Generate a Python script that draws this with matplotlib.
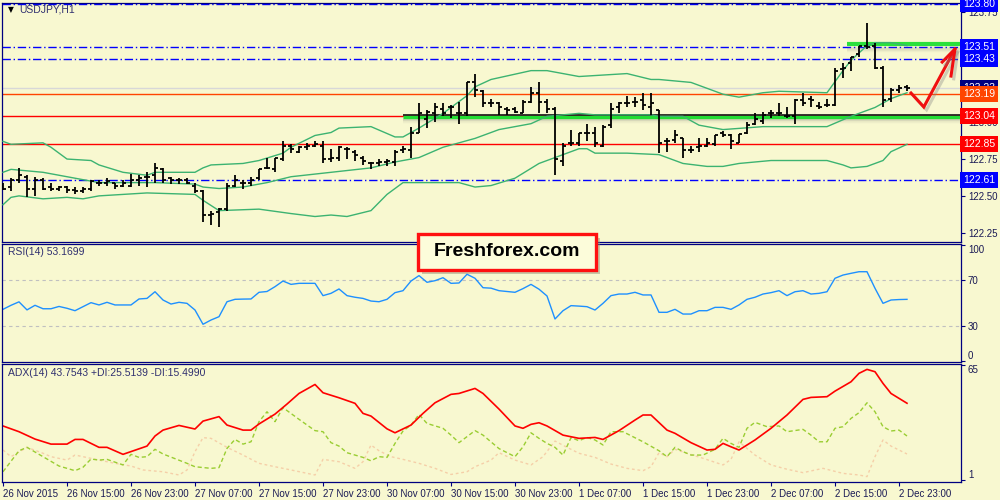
import matplotlib
matplotlib.use('Agg')
import matplotlib.pyplot as plt
import matplotlib.patheffects as pe
from matplotlib.patches import Rectangle
import numpy as np

# Barres OHLC USDJPY H1 (26 Nov 07:00 -> 3 Dec 00:00)
bar_open = [122.57, 122.56, 122.61, 122.63, 122.55, 122.61, 122.56, 122.55, 122.56, 122.54,
            122.53, 122.55, 122.59, 122.59, 122.59, 122.57, 122.57, 122.61, 122.63, 122.64,
            122.68, 122.62, 122.61, 122.61, 122.57, 122.53, 122.37, 122.39, 122.41, 122.57,
            122.59, 122.59, 122.62, 122.69, 122.68, 122.75, 122.84, 122.80, 122.83, 122.84,
            122.84, 122.75, 122.76, 122.82, 122.80, 122.76, 122.72, 122.72, 122.73, 122.73,
            122.81, 122.81, 122.93, 123.02, 123.06, 123.09, 123.10, 123.06, 123.06, 123.27,
            123.21, 123.13, 123.13, 123.09, 123.09, 123.06, 123.14, 123.20, 123.14, 123.09,
            122.74, 122.86, 122.86, 122.93, 122.93, 122.84, 122.98, 123.10, 123.13, 123.14,
            123.15, 123.10, 123.08, 122.87, 122.88, 122.89, 122.81, 122.83, 122.84, 122.85,
            122.93, 122.91, 122.86, 122.93, 122.99, 123.01, 123.06, 123.06, 123.04, 123.04,
            123.15, 123.16, 123.11, 123.12, 123.12, 123.36, 123.40, 123.46, 123.52, 123.52,
            123.37, 123.16, 123.22, 123.24]
bar_high = [122.59, 122.62, 122.69, 122.64, 122.63, 122.62, 122.59, 122.57, 122.57, 122.56,
            122.56, 122.61, 122.61, 122.62, 122.59, 122.61, 122.65, 122.64, 122.66, 122.72,
            122.69, 122.63, 122.62, 122.62, 122.59, 122.54, 122.40, 122.42, 122.59, 122.64,
            122.61, 122.63, 122.68, 122.76, 122.76, 122.87, 122.85, 122.84, 122.86, 122.87,
            122.87, 122.82, 122.84, 122.83, 122.81, 122.77, 122.73, 122.75, 122.75, 122.81,
            122.84, 122.97, 123.13, 123.08, 123.13, 123.13, 123.12, 123.14, 123.27, 123.33,
            123.22, 123.16, 123.14, 123.10, 123.10, 123.15, 123.24, 123.27, 123.16, 123.10,
            122.86, 122.95, 122.93, 122.99, 122.97, 122.98, 123.13, 123.14, 123.18, 123.17,
            123.20, 123.20, 123.08, 122.89, 122.95, 122.89, 122.84, 122.89, 122.89, 122.91,
            122.94, 122.92, 122.92, 123.00, 123.06, 123.07, 123.08, 123.13, 123.10, 123.16,
            123.20, 123.18, 123.14, 123.16, 123.37, 123.40, 123.44, 123.52, 123.67, 123.54,
            123.38, 123.23, 123.25, 123.25]
bar_low = [122.54, 122.53, 122.59, 122.49, 122.50, 122.54, 122.53, 122.53, 122.52, 122.51,
           122.52, 122.53, 122.57, 122.57, 122.55, 122.56, 122.56, 122.57, 122.56, 122.59,
           122.59, 122.58, 122.58, 122.58, 122.52, 122.32, 122.30, 122.29, 122.40, 122.56,
           122.55, 122.57, 122.61, 122.68, 122.66, 122.74, 122.79, 122.79, 122.81, 122.83,
           122.72, 122.73, 122.74, 122.75, 122.74, 122.71, 122.68, 122.70, 122.70, 122.70,
           122.79, 122.76, 122.93, 122.96, 123.00, 123.04, 123.03, 122.99, 123.04, 123.17,
           123.10, 123.10, 123.05, 123.05, 123.06, 123.06, 123.13, 123.06, 123.06, 122.64,
           122.70, 122.84, 122.84, 122.87, 122.83, 122.83, 122.96, 123.06, 123.10, 123.10,
           123.08, 123.05, 122.79, 122.80, 122.86, 122.76, 122.79, 122.80, 122.83, 122.84,
           122.90, 122.82, 122.86, 122.92, 122.98, 122.99, 123.03, 123.04, 123.03, 122.99,
           123.11, 123.10, 123.09, 123.10, 123.11, 123.30, 123.35, 123.44, 123.50, 123.36,
           123.10, 123.14, 123.20, 123.21]
bar_close = [122.55, 122.61, 122.64, 122.55, 122.61, 122.55, 122.55, 122.56, 122.54, 122.53,
             122.55, 122.60, 122.59, 122.60, 122.57, 122.59, 122.61, 122.62, 122.63, 122.69,
             122.61, 122.61, 122.61, 122.59, 122.53, 122.37, 122.38, 122.41, 122.57, 122.61,
             122.59, 122.61, 122.68, 122.69, 122.76, 122.84, 122.82, 122.83, 122.84, 122.85,
             122.75, 122.76, 122.83, 122.82, 122.78, 122.74, 122.72, 122.73, 122.74, 122.80,
             122.82, 122.93, 123.06, 123.07, 123.10, 123.06, 123.10, 123.06, 123.27, 123.22,
             123.13, 123.13, 123.10, 123.08, 123.07, 123.14, 123.20, 123.14, 123.09, 122.75,
             122.84, 122.86, 122.93, 122.93, 122.86, 122.97, 123.09, 123.13, 123.13, 123.14,
             123.12, 123.13, 122.86, 122.87, 122.91, 122.81, 122.81, 122.84, 122.86, 122.91,
             122.91, 122.87, 122.92, 122.98, 123.02, 123.05, 123.06, 123.06, 123.04, 123.15,
             123.13, 123.15, 123.10, 123.12, 123.35, 123.37, 123.44, 123.52, 123.51, 123.37,
             123.15, 123.22, 123.23, 123.23]

# Bandes de Bollinger
bb_up_idx = [0, 1, 5, 6, 8, 11, 12, 15, 18, 19, 24, 25, 26, 30, 32, 35, 36, 39, 41, 42,
             46, 49, 50, 52, 55, 58, 59, 61, 66, 68, 72, 78, 81, 82, 86, 88, 90, 92, 95, 97,
             103, 105, 106, 108, 109, 111, 113]
bb_up = [122.87, 122.85, 122.86, 122.83, 122.75, 122.74, 122.71, 122.66, 122.64, 122.66,
         122.66, 122.69, 122.71, 122.72, 122.74, 122.79, 122.83, 122.91, 122.93, 122.96,
         122.97, 122.90, 122.90, 122.96, 123.06, 123.18, 123.24, 123.29, 123.35, 123.35,
         123.31, 123.33, 123.29, 123.29, 123.27, 123.23, 123.19, 123.17, 123.20, 123.21,
         123.20, 123.35, 123.42, 123.52, 123.54, 123.54, 123.52]
bb_mid_idx = [0, 1, 5, 8, 12, 15, 19, 24, 25, 27, 30, 33, 36, 41, 46, 49, 52, 55, 59, 62,
              66, 68, 72, 74, 81, 82, 85, 87, 90, 95, 99, 103, 106, 109, 111, 113]
bb_mid = [122.66, 122.68, 122.66, 122.63, 122.59, 122.59, 122.59, 122.58, 122.56, 122.55,
          122.56, 122.59, 122.63, 122.66, 122.69, 122.73, 122.76, 122.83, 122.89, 122.95,
          122.99, 123.04, 123.06, 123.05, 123.05, 123.04, 123.04, 122.98, 122.95, 122.97,
          122.97, 122.97, 123.04, 123.10, 123.16, 123.20]
bb_low_idx = [0, 1, 2, 5, 8, 10, 12, 18, 24, 25, 27, 32, 36, 39, 41, 43, 46, 48, 50, 57,
              59, 61, 64, 67, 69, 72, 73, 74, 78, 82, 85, 88, 90, 92, 96, 103, 105, 106, 108, 110,
              111, 113]
bb_low = [122.44, 122.49, 122.50, 122.48, 122.49, 122.48, 122.50, 122.52, 122.51, 122.47,
          122.40, 122.41, 122.38, 122.36, 122.37, 122.36, 122.40, 122.51, 122.59, 122.59,
          122.56, 122.57, 122.62, 122.72, 122.76, 122.82, 122.82, 122.79, 122.79, 122.78,
          122.72, 122.70, 122.70, 122.72, 122.74, 122.74, 122.71, 122.69, 122.70, 122.74,
          122.80, 122.85]

# RSI(14), une valeur par barre
rsi = [44.5, 48, 51, 44, 48, 45, 45, 47, 45.4, 43.3,
       46.8, 50.3, 48.3, 50.6, 48.3, 48.3, 48.3, 53.5, 54, 59.8,
       52.6, 49.1, 50.6, 49.7, 43.9, 31.5, 35.2, 38.1, 51.1, 53.2,
       53.4, 53.5, 59.3, 60, 64.2, 69.1, 66.2, 67.1, 67.1, 67.1,
       56.4, 58.4, 62.2, 56.4, 55, 54, 51.7, 51.1, 53.2, 59,
       60.7, 69.1, 73.8, 68, 69.4, 72, 67.1, 67.4, 75, 71.5,
       63.3, 62.9, 60.7, 60, 59.3, 62.5, 66.2, 62, 56.1, 36.1,
       43.3, 47.7, 47.3, 46.8, 43.9, 49.7, 56.4, 57.8, 57.8, 59.3,
       57, 57, 41.9, 41.9, 44.5, 40.4, 40.4, 43.3, 43.3, 46.2,
       46.2, 44.5, 48.3, 53.2, 55, 57.8, 59, 60.7, 56.4, 59.8,
       60.7, 57.8, 58.4, 59.8, 71.5, 74.3, 75.8, 77.2, 77.2, 62.8,
       49.7, 52.6, 53, 53.17]

# ADX(14), +DI, -DI
adx_idx = [0, 2, 4, 6, 8, 9, 10, 12, 13, 15, 18, 19, 20, 22, 24, 25, 27, 28, 30, 31,
           32, 34, 35.5, 37, 39, 40, 42, 44, 45, 46, 48, 49, 51, 52.5, 54, 56, 57, 59, 60, 62,
           64, 65, 66, 67, 68, 70, 72, 74, 75, 77, 79, 80, 81, 83, 84, 86, 88, 89, 90, 91,
           92, 94, 96, 98, 100, 101, 103, 104, 106, 107, 108, 109, 110, 111, 113]
adx = [31.1, 27.9, 23.8, 21.0, 21.0, 23.6, 23.6, 19.2, 19.2, 15.3, 19.9, 25.5, 28.8, 31.4, 29.4,
       33.8, 36.3, 31.6, 28.8, 28.8, 32.2, 37.7, 43.3, 49.2, 54.2, 49.6, 46.8, 43.7, 38.1, 36.6,
       29.5, 27.3, 31.6, 38.1, 44.0, 48.7, 49.2, 52.0, 49.2, 40.5, 31.1, 29.8, 32.0, 32.9, 31.1,
       26.0, 24.2, 24.7, 23.6, 28.5, 34.4, 37.2, 37.2, 28.8, 27.0, 21.8, 17.7, 18.1, 21.4, 19.5,
       17.7, 23.3, 29.8, 37.2, 45.9, 47.0, 47.4, 50.5, 55.7, 60.4, 62.6, 61.3, 54.8, 49.2, 43.75]
pdi_idx = [0, 2, 3, 5, 7, 9, 10, 11, 12, 13, 15, 16, 17, 18, 19, 20, 23, 24, 26, 27,
           28, 29, 30, 31, 32, 33, 34, 35, 37, 39, 40, 41, 42, 43, 45, 46, 47, 48, 49, 50,
           51, 52, 53, 55, 56, 57, 59, 60, 62, 64, 65, 66, 67, 68, 69, 70, 71, 72, 73, 74,
           75, 76, 77.5, 80, 82, 83, 84, 85, 86, 87.5, 89, 90, 91, 92, 93, 94, 95.5, 97, 98, 100,
           101, 102, 103, 104, 105, 106, 107, 108, 109, 110, 111, 112, 113]
pdi = [5.6, 17.3, 19.2, 14.0, 8.8, 6.2, 8.1, 12.7, 12.1, 12.5, 9.4, 15.3, 13.6, 14.0, 18.1,
       15.5, 10.3, 8.4, 7.5, 7.9, 18.6, 23.6, 21.0, 22.3, 33.5, 39.0, 33.5, 41.3, 34.8, 28.5,
       27.9, 21.8, 19.9, 16.2, 13.6, 11.7, 14.0, 13.6, 21.4, 28.3, 31.6, 37.5, 32.5, 29.8, 26.0,
       21.8, 28.5, 26.0, 18.5, 14.0, 19.5, 27.3, 24.2, 21.4, 19.2, 14.9, 24.6, 22.9, 24.7, 23.3,
       20.5, 27.9, 27.9, 22.3, 17.3, 14.0, 19.2, 16.8, 14.9, 14.9, 18.1, 24.2, 21.4, 19.2, 29.8,
       33.1, 30.7, 31.1, 27.9, 29.2, 26.0, 22.3, 22.3, 29.8, 30.7, 35.3, 38.5, 44.0, 39.0, 30.7,
       28.3, 28.8, 25.51]
mdi_idx = [0, 1, 3, 5, 6, 8, 9, 10, 12, 14, 16, 17.5, 20, 22, 23, 24, 25, 26, 28, 30,
           32, 34, 36, 39, 40, 42, 44, 45, 46, 47, 48.5, 50, 52, 54, 56, 58, 59, 61, 62, 64,
           66, 67.5, 69, 70.5, 72, 74, 76, 78, 80, 81, 82, 83, 84, 85.5, 87.5, 90, 91, 92, 94, 96,
           98, 100, 102.5, 105, 107, 108, 109, 110, 111, 113]
mdi = [17.7, 14.0, 19.2, 15.9, 14.0, 12.1, 14.9, 14.0, 12.1, 10.3, 8.8, 6.6, 5.6, 3.8, 6.6,
       16.8, 24.6, 24.2, 19.2, 14.9, 10.3, 8.4, 6.6, 3.8, 12.5, 11.2, 7.5, 11.2, 20.5, 17.3,
       14.0, 12.5, 10.3, 7.5, 4.1, 5.6, 8.4, 12.1, 16.2, 12.1, 9.4, 14.0, 22.7, 19.2, 15.9,
       13.6, 9.9, 7.5, 6.2, 8.4, 16.2, 14.0, 18.1, 15.9, 13.1, 9.4, 12.5, 22.3, 14.9, 9.4,
       7.0, 5.1, 7.5, 4.7, 3.8, 2.9, 14.0, 23.3, 19.9, 15.5]

# Niveaux horizontaux
levels_blue = [123.80, 123.51, 123.43, 122.61]
levels_red = [123.04, 122.85]
level_orange = 123.19
bid_price = 123.23

price_ticks = [122.25, 122.50, 122.75, 123.00, 123.25, 123.50, 123.75]
price_tick_labels = ['122.25', '122.50', '122.75', '123.00', '', '', '123.75']

time_ticks = [0, 8, 16, 24, 32, 40, 48, 56, 64, 72, 80, 88, 96, 104, 112]
time_labels = ['26 Nov 2015', '26 Nov 15:00', '26 Nov 23:00', '27 Nov 07:00', '27 Nov 15:00',
               '27 Nov 23:00', '30 Nov 07:00', '30 Nov 15:00', '30 Nov 23:00', '1 Dec 07:00',
               '1 Dec 15:00', '1 Dec 23:00', '2 Dec 07:00', '2 Dec 15:00', '2 Dec 23:00']

BG = '#F8F8D0'
NAVY = '#000080'
TXT = '#1a1a55'

plt.rcParams['font.family'] = ['Liberation Sans', 'DejaVu Sans']

fig = plt.figure(figsize=(10, 5), dpi=100, facecolor=BG)


def panel(top_px, bottom_px):
    ax = fig.add_axes([2 / 1000, 1 - bottom_px / 500, 959 / 1000, (bottom_px - top_px) / 500])
    ax.set_facecolor(BG)
    for s in ax.spines.values():
        s.set_color(NAVY)
        s.set_linewidth(0.9)
    ax.yaxis.tick_right()
    ax.tick_params(axis='y', direction='out', length=3, color=NAVY, labelsize=7,
                   labelcolor=TXT, pad=2)
    ax.set_xlim(-0.125, 119.75)
    return ax


def edge_labels(ax):
    # comme MT4 : l'étiquette du haut descend, celle du bas remonte
    labs = ax.get_yticklabels()
    labs[0].set_verticalalignment('bottom')
    labs[-1].set_verticalalignment('top')


ax_p = panel(3, 242)
ax_r = panel(244, 362)
ax_a = panel(364, 482)

# --- Panneau des prix ---
ax_p.set_ylim(122.187, 123.809)
ax_p.set_xticks([])
ax_p.set_yticks(price_ticks)
ax_p.set_yticklabels(price_tick_labels)

ax_p.axhline(bid_price, color='#D8D8D8', lw=1, zorder=1)
for lv in levels_blue:
    ax_p.axhline(lv, color='#0000FF', lw=1, ls=(0, (6, 2, 1, 2)), zorder=2)
for lv in levels_red:
    ax_p.axhline(lv, color='#FF0000', lw=1, zorder=2)
ax_p.axhline(level_orange, color='#FF4500', lw=1, zorder=2)

# ombres + traits verts de support/résistance
for k in range(6):
    ax_p.hlines(123.024 - k * 0.006, 50, 119.75, color='gray', alpha=0.13 * (1 - k / 6), lw=1.5, zorder=2)
    ax_p.hlines(123.505 - k * 0.006, 105.5, 119.75, color='gray', alpha=0.10 * (1 - k / 6), lw=1.5, zorder=2)
ax_p.hlines(123.034, 50, 119.75, color='#22DD33', lw=2.4, zorder=3)
ax_p.hlines(123.046, 50, 119.75, color='black', lw=1.1, zorder=3)
ax_p.hlines(123.528, 105.5, 119.75, color='#2BE03C', lw=3, zorder=3)

ax_p.plot(bb_up_idx, bb_up, color='#3CB371', lw=1, zorder=3)
ax_p.plot(bb_mid_idx, bb_mid, color='#3CB371', lw=1, zorder=3)
ax_p.plot(bb_low_idx, bb_low, color='#3CB371', lw=1, zorder=3)

x = np.arange(len(bar_close))
ax_p.vlines(x, bar_low, bar_high, color='black', lw=1.3, zorder=4)
ax_p.hlines(bar_open, x - 0.4, x, color='black', lw=1.3, zorder=4)
ax_p.hlines(bar_close, x, x + 0.4, color='black', lw=1.3, zorder=4)

# flèche rouge du scénario
shadow = [pe.SimpleLineShadow(offset=(2, -2), alpha=0.35, shadow_color='gray'), pe.Normal()]
ax_p.plot([113.5, 115.1, 119.0], [123.198, 123.103, 123.497], color='#F01010', lw=2.2,
          solid_joinstyle='miter', path_effects=shadow, zorder=6, clip_on=False)
ax_p.plot([117.4, 119.0, 118.5], [123.408, 123.497, 123.313], color='#F01010', lw=2.2,
          solid_joinstyle='miter', path_effects=shadow, zorder=6, clip_on=False)

ax_p.text(0.006, 0.972, '\u25bc', transform=ax_p.transAxes, fontsize=5.5, color='black',
          va='center', ha='left', family=['DejaVu Sans'])
ax_p.text(0.0185, 0.972, 'USDJPY,H1', transform=ax_p.transAxes, fontsize=7.5, color='#303070',
          va='center', ha='left')


def price_label(val, fc, z=10):
    ax_p.text(1.002, val, f'{val:.2f}', transform=ax_p.get_yaxis_transform(), ha='left',
              va='center', fontsize=7.5, color='white', zorder=z, clip_on=False,
              bbox=dict(boxstyle='square,pad=0.28', fc=fc, ec='none'))


price_label(bid_price, '#000080', 9)
for lv in levels_blue:
    price_label(lv, '#0000FF')
price_label(level_orange, '#FF4500', 11)
for lv in levels_red:
    price_label(lv, '#FF0000')

# --- RSI ---
ax_r.set_ylim(-1.3, 101.3)
ax_r.set_xticks([])
ax_r.set_yticks([0, 30, 70, 100])
edge_labels(ax_r)
ax_r.axhline(70, color='#C0C0C0', lw=0.8, ls=(0, (3, 3)))
ax_r.axhline(30, color='#C0C0C0', lw=0.8, ls=(0, (3, 3)))
ax_r.plot(x, rsi, color='#1E90FF', lw=1)
ax_r.text(0.006, 0.93, 'RSI(14) 53.1699', transform=ax_r.transAxes, fontsize=7.5,
          color='#303070', va='center', ha='left')

# --- ADX ---
ax_a.set_ylim(-0.1, 65.6)
ax_a.set_yticks([1, 65])
edge_labels(ax_a)
ax_a.plot(mdi_idx, mdi, color='#F5CFA8', lw=1, ls=(0, (2, 2)))
ax_a.plot(pdi_idx, pdi, color='#9ACD32', lw=1, ls=(0, (3, 2)))
ax_a.plot(adx_idx, adx, color='#FF0000', lw=1.2)
ax_a.text(0.006, 0.925, 'ADX(14) 43.7543 +DI:25.5139 -DI:15.4990', transform=ax_a.transAxes,
          fontsize=7.5, color='#303070', va='center', ha='left')
ax_a.set_xticks(time_ticks)
ax_a.set_xticklabels(time_labels)
ax_a.tick_params(axis='x', direction='out', length=3, color=NAVY, labelsize=7,
                 labelcolor=TXT, pad=2)
for lab in ax_a.get_xticklabels():
    lab.set_horizontalalignment('left')

# --- logo ---
fig.add_artist(Rectangle((422 / 1000, 1 - 274 / 500), 178 / 1000, 36 / 500,
                         transform=fig.transFigure, fc='#8a8a70', ec='none', alpha=0.45, zorder=20))
fig.add_artist(Rectangle((418 / 1000, 1 - 270 / 500), 178 / 1000, 36 / 500,
                         transform=fig.transFigure, fc='#FCFCDA', ec='#FF1010', lw=2.4, zorder=21))
fig.text(507 / 1000, 1 - 252 / 500, 'Freshforex.com', ha='center', va='center', fontsize=14,
         fontweight='bold', color='black', zorder=22)

fig.savefig('out.png', dpi=100, facecolor=BG)
